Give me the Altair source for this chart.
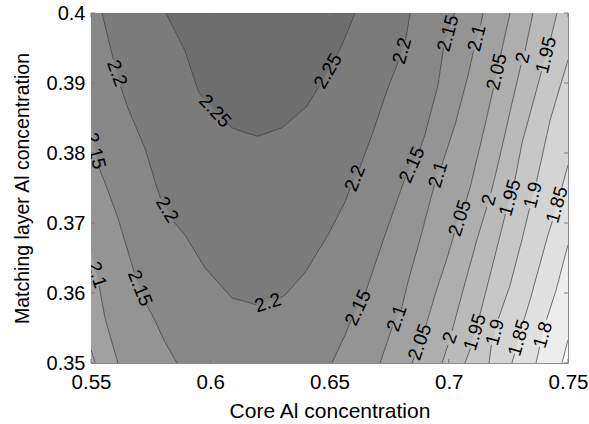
import altair as alt
import pandas as pd

# ---------------- data ----------------
X_TICKS = [0.55, 0.6, 0.65, 0.7, 0.75]
Y_TICKS = [0.35, 0.36, 0.37, 0.38, 0.39, 0.4]

LEVELS = [1.75, 1.8, 1.85, 1.9, 1.95, 2.0, 2.05, 2.1, 2.15, 2.2, 2.25]
BAND_FILL = ["#ededed", "#e1e1e1", "#d4d4d4", "#c7c7c7", "#bababa", "#aeaeae",
             "#a1a1a1", "#949494", "#878787", "#7b7b7b", "#6e6e6e"]
BASE_FILL = "#fafafa"

# where each superlevel region meets the left edge / bottom-left corner
EDGE_START = {
    2.15: [0.55, 0.3840],
    2.1: [0.55, 0.3661],
    2.0: [0.55, 0.35],
    1.95: [0.55, 0.35],
    1.9: [0.55, 0.35],
    1.85: [0.55, 0.35],
    1.8: [0.55, 0.35],
    1.75: [0.55, 0.35],
}

# contour lines (x, y), split where the labels sit
CONTOUR_225 = [
    [[0.5814, 0.4], [0.5894, 0.3946], [0.5949, 0.3889], [0.5970, 0.3879]],
    [[0.6070, 0.3843], [0.6091, 0.3836], [0.6146, 0.3829], [0.6200, 0.3824],
     [0.6301, 0.3836], [0.6406, 0.3867], [0.6457, 0.3896]],
    [[0.6530, 0.3939], [0.6552, 0.3954], [0.6607, 0.4]],
]
CONTOUR_220 = [
    [[0.5546, 0.4], [0.5594, 0.3933]],
    [[0.5624, 0.3895], [0.5655, 0.3864], [0.5726, 0.3807], [0.5777, 0.3750], [0.5792, 0.3735]],
    [[0.5846, 0.3702], [0.5894, 0.3683], [0.5978, 0.3636], [0.6091, 0.3593],
     [0.6167, 0.3586], [0.6190, 0.3583]],
    [[0.6294, 0.3593], [0.6313, 0.3597], [0.6397, 0.3629], [0.6494, 0.3683],
     [0.6565, 0.3730], [0.6588, 0.3751]],
    [[0.6626, 0.3778], [0.6678, 0.3826], [0.6745, 0.3893], [0.6789, 0.3931]],
    [[0.6819, 0.3961], [0.6838, 0.4]],
]
CONTOUR_215 = [
    [[0.5529, 0.3783], [0.5567, 0.3750], [0.5613, 0.3707], [0.5682, 0.3629]],
    [[0.5728, 0.3586], [0.5756, 0.3569], [0.5810, 0.3530], [0.5861, 0.35]],
    [[0.6510, 0.35], [0.6565, 0.3540], [0.6592, 0.3562]],
    [[0.6647, 0.3595], [0.6661, 0.3611], [0.6733, 0.3683], [0.6796, 0.3744], [0.6819, 0.3766]],
    [[0.6873, 0.3799], [0.6900, 0.3826], [0.6955, 0.3897], [0.6978, 0.3950]],
    [[0.7016, 0.3993], [0.7026, 0.4]],
]
CONTOUR_210 = [
    [[0.5534, 0.3610], [0.5559, 0.3564], [0.5588, 0.3529], [0.5613, 0.35]],
    [[0.6712, 0.35], [0.6764, 0.3552]],
    [[0.6802, 0.3577], [0.6829, 0.3616], [0.6879, 0.3676], [0.6940, 0.3755]],
    [[0.6970, 0.3782], [0.7026, 0.3840], [0.7081, 0.3911], [0.7104, 0.3946]],
    [[0.7133, 0.3982], [0.7144, 0.4]],
]
CONTOUR_205 = [
    [[0.55, 0.3519], [0.5517, 0.35]],
    [[0.6846, 0.35], [0.6856, 0.3509]],
    [[0.6902, 0.3551], [0.6942, 0.3597], [0.6997, 0.3654], [0.7024, 0.3686]],
    [[0.7070, 0.3729], [0.7089, 0.3750], [0.7139, 0.3821], [0.7188, 0.3893]],
    [[0.7217, 0.3939], [0.7257, 0.4]],
]
CONTOUR_200 = [
    [[0.6972, 0.35], [0.6997, 0.3526]],
    [[0.7014, 0.3546], [0.7060, 0.3604], [0.7118, 0.3676], [0.7160, 0.3723]],
    [[0.7177, 0.3743], [0.7206, 0.3783], [0.7257, 0.3859], [0.7303, 0.3926]],
    [[0.7320, 0.3946], [0.7353, 0.4]],
]
CONTOUR_195 = [
    [[0.7068, 0.35], [0.7091, 0.3521]],
    [[0.7129, 0.3567], [0.7181, 0.3636], [0.7238, 0.3713]],
    [[0.7276, 0.3759], [0.7307, 0.3814], [0.7383, 0.3909], [0.7389, 0.3917]],
    [[0.7427, 0.3963], [0.7454, 0.4]],
]
CONTOUR_190 = [
    [[0.7169, 0.35], [0.7179, 0.3526]],
    [[0.7208, 0.3563], [0.7257, 0.3611], [0.7307, 0.3676], [0.7339, 0.3721]],
    [[0.7368, 0.3759], [0.7425, 0.3847], [0.75, 0.3933]],
]
CONTOUR_185 = [
    [[0.7265, 0.35], [0.7276, 0.3513]],
    [[0.7313, 0.3559], [0.7341, 0.3590], [0.7378, 0.3636], [0.7416, 0.3683], [0.7435, 0.3703]],
    [[0.7473, 0.3749], [0.75, 0.3783]],
]
CONTOUR_180 = [
    [[0.7366, 0.35], [0.7381, 0.3523]],
    [[0.7410, 0.3562], [0.7450, 0.3604], [0.75, 0.3669]],
]
CONTOUR_175 = [
    [[0.7475, 0.35], [0.75, 0.3533]],
]

CONTOURS = {
    2.25: CONTOUR_225, 2.2: CONTOUR_220, 2.15: CONTOUR_215, 2.1: CONTOUR_210,
    2.05: CONTOUR_205, 2.0: CONTOUR_200, 1.95: CONTOUR_195, 1.9: CONTOUR_190,
    1.85: CONTOUR_185, 1.8: CONTOUR_180, 1.75: CONTOUR_175,
}

LABEL_TEXT = ["2.25", "2.25",
              "2.2", "2.2", "2.2", "2.2", "2.2",
              "2.15", "2.15", "2.15", "2.15", "2.15",
              "2.1", "2.1", "2.1", "2.1",
              "2.05", "2.05", "2.05",
              "2", "2", "2",
              "1.95", "1.95", "1.95",
              "1.9", "1.9",
              "1.85", "1.85",
              "1.8"]
LABEL_X = [0.6020, 0.6494,
           0.5609, 0.5819, 0.6242, 0.6607, 0.6804,
           0.5517, 0.5705, 0.6620, 0.6846, 0.6997,
           0.5525, 0.6783, 0.6955, 0.7118,
           0.6879, 0.7047, 0.7202,
           0.7005, 0.7169, 0.7311,
           0.7110, 0.7257, 0.7408,
           0.7194, 0.7353,
           0.7295, 0.7454,
           0.7395]
LABEL_Y = [0.3860, 0.3917,
           0.3914, 0.3719, 0.3586, 0.3764, 0.3946,
           0.3803, 0.3607, 0.3579, 0.3783, 0.3971,
           0.3626, 0.3564, 0.3769, 0.3964,
           0.3530, 0.3707, 0.3916,
           0.3536, 0.3733, 0.3936,
           0.3544, 0.3736, 0.3940,
           0.3544, 0.3740,
           0.3536, 0.3726,
           0.3540]
LABEL_ANGLE = [47, 300,
               70, 59, 343, 292, 286,
               76, 68, 295, 294, 285,
               72, 289, 287, 284,
               289, 288, 283,
               290, 286, 283,
               287, 286, 284,
               285, 284,
               286, 286,
               286]

# ---------------- tables ----------------
area_rows, line_rows = [], []
for lev in LEVELS:
    pts = []
    if lev in EDGE_START:
        pts.append(EDGE_START[lev])
    for s, seg in enumerate(CONTOURS[lev]):
        for i, (x, y) in enumerate(seg):
            pts.append([x, y])
            line_rows.append({"level": lev, "seg": f"{lev}-{s}", "i": i, "x": x, "y": y})
    for x, y in pts:
        area_rows.append({"level": lev, "x": x, "y": y})
area_df = pd.DataFrame(area_rows)
line_df = pd.DataFrame(line_rows)
label_df = pd.DataFrame({"x": LABEL_X, "y": LABEL_Y, "text": LABEL_TEXT, "angle": LABEL_ANGLE})
xt_df = pd.DataFrame({"x": X_TICKS})
yt_df = pd.DataFrame({"y": Y_TICKS})

W, H = 477, 350
FONT = "Liberation Sans"
xscale = alt.Scale(domain=[0.55, 0.75], nice=False, zero=False)
yscale = alt.Scale(domain=[0.35, 0.4], nice=False, zero=False)

x_axis = alt.Axis(values=X_TICKS, format="~g", title="Core Al concentration",
                  domain=False, ticks=False, grid=False, labelFlush=False,
                  labelOverlap=False, labelPadding=9, labelFontSize=20.5,
                  titleFontSize=21, titleBaseline="alphabetic", titleY=54)
y_axis = alt.Axis(values=Y_TICKS, format="~g", title="Matching layer Al concentration",
                  domain=False, ticks=False, grid=False, labelFlush=False,
                  labelOverlap=False, labelPadding=6, labelFontSize=20,
                  titleFontSize=19.5, titleBaseline="alphabetic", titleX=-63)

X = alt.X("x:Q", scale=xscale, axis=x_axis)
Y = alt.Y("y:Q", scale=yscale, axis=y_axis, stack=None)

layers = []
for k, lev in enumerate(LEVELS):
    d = area_df[area_df["level"] == lev]
    layers.append(
        alt.Chart(d).mark_area(color=BAND_FILL[k], clip=True, interpolate="linear").encode(
            x=X, y=Y, y2=alt.datum(0.4),
        )
    )

lines = alt.Chart(line_df).mark_line(color="#3c3c3c", strokeWidth=0.7, clip=True).encode(
    x=X, y=Y, detail="seg:N", order="i:Q",
)

labels = alt.Chart(label_df).mark_text(
    font=FONT, fontSize=19, color="black", align="center", baseline="middle", clip=True
).encode(
    x=X, y=Y,
    text="text:N",
    angle=alt.Angle("angle:Q", scale=None),
)

TICK_COLOR = "#7a7a7a"
xt_bottom = alt.Chart(xt_df).mark_rule(color=TICK_COLOR, strokeWidth=1).encode(
    x=X, y=alt.value(H), y2=alt.value(H - 4))
xt_top = alt.Chart(xt_df).mark_rule(color=TICK_COLOR, strokeWidth=1).encode(
    x=X, y=alt.value(0), y2=alt.value(4))
yt_left = alt.Chart(yt_df).mark_rule(color=TICK_COLOR, strokeWidth=1).encode(
    y=Y, x=alt.value(0), x2=alt.value(4))
yt_right = alt.Chart(yt_df).mark_rule(color=TICK_COLOR, strokeWidth=1).encode(
    y=Y, x=alt.value(W), x2=alt.value(W - 4))

chart = alt.layer(*layers, lines, labels, xt_bottom, xt_top, yt_left, yt_right).properties(
    width=W, height=H,
    autosize=alt.AutoSizeParams(type="none"),
    padding={"left": 91, "top": 13, "right": 21, "bottom": 61},
    background="white",
).configure_view(
    fill=BASE_FILL, stroke="#8c8c8c", strokeWidth=1
).configure_axis(
    labelFont=FONT, labelColor="black",
    titleFont=FONT, titleFontWeight="normal", titleColor="black",
)

chart.save("out.html", embed_options={"renderer": "svg", "actions": False})
